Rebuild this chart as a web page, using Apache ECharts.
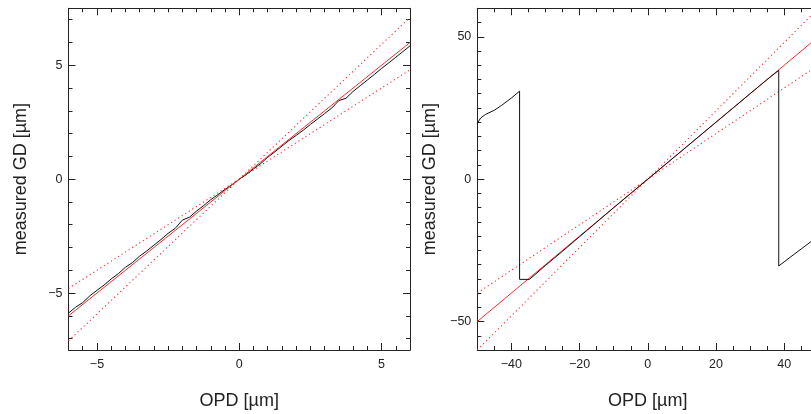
<!DOCTYPE html>
<html>
<head>
<meta charset="utf-8">
<script src="https://cdn.jsdelivr.net/npm/echarts@6/dist/echarts.min.js"></script>
<style>html,body{margin:0;padding:0;background:#fff}#c{width:811px;height:414px}</style>
</head>
<body>
<div id="c"></div>
<script>
// ---------- Left panel data ----------
const leftOPD = [-6,-5.75,-5.5,-5.25,-5,-4.75,-4.5,-4.25,-4,-3.75,-3.5,-3.25,-3,-2.75,-2.5,-2.25,-2,-1.75,-1.5,-1.25,-1,-0.75,-0.5,-0.25,0,0.25,0.5,0.75,1,1.25,1.5,1.75,2,2.25,2.5,2.75,3,3.25,3.5,3.75,4,4.25,4.5,4.75,5,5.25,5.5,5.75,6];
const leftGD = [-5.88,-5.62,-5.42,-5.12,-4.88,-4.65,-4.38,-4.15,-3.87,-3.66,-3.38,-3.15,-2.9,-2.65,-2.38,-2.16,-1.8,-1.67,-1.4,-1.16,-0.9,-0.68,-0.45,-0.24,0,0.2,0.45,0.68,0.96,1.2,1.45,1.7,1.92,2.15,2.4,2.64,2.88,3.12,3.45,3.55,3.85,4.1,4.35,4.6,4.86,5.1,5.35,5.6,5.85];
const leftRefX = [-6, 6];
const leftRefY = [-6, 6];
const leftUpperY = [-7.1, 7.1];   // steep dotted bound
const leftLowerY = [-4.8, 4.8];   // shallow dotted bound

// ---------- Right panel data ----------
const rightOPD = [-50,-49,-47.5,-45,-43,-40,-37.6,-37.6,-34.7,-30,-25,-20,-15,-10,-5,0,5,10,15,20,25,30,35,38.4,38.4,42,45,48,50];
const rightGD  = [19.6,21.5,22.8,24.2,25.8,28.5,30.9,-35.2,-35.2,-30.3,-25.3,-20.2,-15.1,-10,-5,0,5,10,15,20,25,30,35,38.2,-30.5,-27.2,-24.5,-21.8,-20];
const rightRefX = [-50, 50];
const rightRefY = [-50, 50];
const rightUpperY = [-60, 60];
const rightLowerY = [-40, 40];

// ---------- Tick values ----------
const leftXMajor = [-5, 0, 5];
const leftYMajor = [-5, 0, 5];
const rightXMajor = [-40, -20, 0, 20, 40];
const rightYMajor = [-50, 0, 50];
function steps(a, b, s){ const r=[]; for(let v=a; v<=b+1e-9; v+=s) r.push(+v.toFixed(4)); return r; }
const leftXMinor = steps(-6, 6, 0.5);
const leftYMinor = steps(-7, 7, 1);
const rightXMinor = steps(-50, 50, 5);
const rightYMinor = steps(-60, 60, 5);

const FONT = 'Liberation Sans, Arial, Helvetica, sans-serif';
const AX = '#222';
const fmt = v => v < 0 ? '\u2212' + (-v) : String(v);
const zip = (xs, ys) => xs.map((x, i) => [x, ys[i]]);

function axisSet(kind, gridIndex, min, max, major, minor, pos, name, nameGap){
  const isX = kind === 'x';
  const common = { type:'value', gridIndex, min, max, splitLine:{show:false} };
  const main = Object.assign({}, common, {
    position: pos,
    axisLine:{show:true, onZero:false, lineStyle:{color:AX, width:1}},
    axisTick:{show:true, inside:true, length:7, customValues:major, lineStyle:{color:AX, width:1}},
    axisLabel:{show:true, customValues:major, formatter:fmt, color:AX, fontSize:12.5, fontFamily:FONT, margin:isX?8:6},
    name: name, nameLocation:'middle', nameGap: nameGap,
    nameTextStyle:{fontSize:18, fontFamily:FONT, color:AX}
  });
  const mn = Object.assign({}, common, {
    position: pos,
    axisLine:{show:false, onZero:false},
    axisTick:{show:true, inside:true, length:4, customValues:minor, lineStyle:{color:AX, width:1}},
    axisLabel:{show:false}
  });
  const opp = isX ? 'top' : 'right';
  const mainO = Object.assign({}, common, {
    position: opp,
    axisLine:{show:true, onZero:false, lineStyle:{color:AX, width:1}},
    axisTick:{show:true, inside:true, length:7, customValues:major, lineStyle:{color:AX, width:1}},
    axisLabel:{show:false}
  });
  const mnO = Object.assign({}, common, {
    position: opp,
    axisLine:{show:false, onZero:false},
    axisTick:{show:true, inside:true, length:4, customValues:minor, lineStyle:{color:AX, width:1}},
    axisLabel:{show:false}
  });
  return [main, mn, mainO, mnO];
}

const xAxes = [].concat(
  axisSet('x', 0, -6, 6, leftXMajor, leftXMinor, 'bottom', 'OPD [\u00b5m]', 42),
  axisSet('x', 1, -50, 50, rightXMajor, rightXMinor, 'bottom', 'OPD [\u00b5m]', 42)
);
const yAxes = [].concat(
  axisSet('y', 0, -7.5, 7.5, leftYMajor, leftYMinor, 'left', 'measured GD [\u00b5m]', 38),
  axisSet('y', 1, -60, 60, rightYMajor, rightYMinor, 'left', 'measured GD [\u00b5m]', 38)
);

const RED = '#ff2a2a';
function line(data, xi, yi, color, width, type, z){
  return { type:'line', data, xAxisIndex:xi, yAxisIndex:yi, symbol:'none', silent:true, animation:false, clip:true, z,
    lineStyle:{color, width, type} };
}
const DOT = [1.2, 3];
const series = [
  line(zip(leftRefX, leftUpperY), 0, 0, RED, 1.1, DOT, 2),
  line(zip(leftRefX, leftLowerY), 0, 0, RED, 1.1, DOT, 2),
  line(zip(leftOPD, leftGD), 0, 0, '#111', 1, 'solid', 3),
  line(zip(leftRefX, leftRefY), 0, 0, RED, 1, 'solid', 4),
  line(zip(rightRefX, rightUpperY), 4, 4, RED, 1.1, DOT, 2),
  line(zip(rightRefX, rightLowerY), 4, 4, RED, 1.1, DOT, 2),
  line(zip(rightRefX, rightRefY), 4, 4, RED, 1, 'solid', 3),
  line(zip(rightOPD, rightGD), 4, 4, '#111', 1, 'solid', 4)
];

const chart = echarts.init(document.getElementById('c'), null, {renderer:'canvas'});
chart.setOption({
  animation:false,
  backgroundColor:'#fff',
  grid:[
    {left:68.5, top:8.3, width:341.5, height:341.7, containLabel:false, outerBoundsMode:'none'},
    {left:477.3, top:8.3, width:341, height:341.7, containLabel:false, outerBoundsMode:'none'}
  ],
  xAxis: xAxes,
  yAxis: yAxes,
  series
});
</script>
</body>
</html>
